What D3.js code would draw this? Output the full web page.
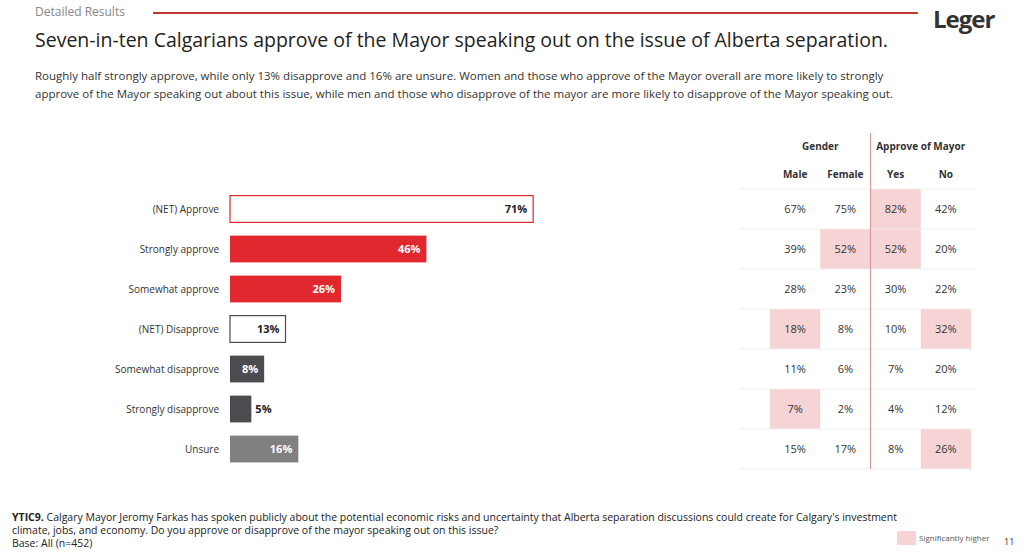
<!DOCTYPE html>
<html><head><meta charset="utf-8">
<script src="https://cdn.jsdelivr.net/npm/d3@7"></script>
<style>body{margin:0;background:#fff}svg{font-family:"Open Sans",Roboto,sans-serif}</style>
</head><body><svg id="c" width="1024" height="552"></svg>
<script>
const categories = ["(NET) Approve","Strongly approve","Somewhat approve","(NET) Disapprove","Somewhat disapprove","Strongly disapprove","Unsure"];
const totals = [71,46,26,13,8,5,16];
const kinds = ["netA","red","red","netD","dark","dark","gray"];
const columns = ["Male","Female","Yes","No"];
const male = [67,39,28,18,11,7,15];
const female = [75,52,23,8,6,2,17];
const yes = [82,52,30,10,7,4,8];
const no = [42,20,22,32,20,12,26];
const highlight = [[0,2],[1,1],[1,2],[3,0],[3,3],[5,0],[6,3]];

const svg = d3.select("#c");
const x = d3.scaleLinear().domain([0,100]).range([230,657]);
const y = d3.scaleBand().domain(categories).range([189,469]).paddingInner(0.33).paddingOuter(0.165);
const cx = d3.scaleBand().domain(columns).range([770,971]);

// header
svg.append("text").attr("x",35).attr("y",16).attr("font-size",12).attr("fill","#888").text("Detailed Results");
svg.append("line").attr("x1",153).attr("x2",918).attr("y1",13).attr("y2",13).attr("stroke","#c0392b").attr("stroke-width",2);
svg.append("text").attr("x",933).attr("y",28).attr("font-size",24).attr("font-weight",700).attr("fill","#333").attr("letter-spacing",-1).text("Leger");
svg.append("text").attr("x",35).attr("y",47).attr("font-size",19.5).attr("fill","#222").text("Seven-in-ten Calgarians approve of the Mayor speaking out on the issue of Alberta separation.");
const sub = ["Roughly half strongly approve, while only 13% disapprove and 16% are unsure. Women and those who approve of the Mayor overall are more likely to strongly",
 "approve of the Mayor speaking out about this issue, while men and those who disapprove of the mayor are more likely to disapprove of the Mayor speaking out."];
sub.forEach((s,i)=>svg.append("text").attr("x",35).attr("y",80+i*18).attr("font-size",11.5).attr("fill","#333").text(s));

// bars
const fill = {netA:"#fff",netD:"#fff",red:"#e0282e",dark:"#4b4b50",gray:"#808080"};
const stroke = {netA:"#e0282e",netD:"#4b4b50",red:"none",dark:"none",gray:"none"};
const g = svg.append("g");
categories.forEach((c,i)=>{
  const k = kinds[i];
  g.append("text").attr("x",219).attr("y",y(c)+y.bandwidth()/2+4).attr("text-anchor","end").attr("font-size",10).attr("fill","#333").text(c);
  g.append("rect").attr("x",x(0)).attr("y",y(c)).attr("width",x(totals[i])-x(0)).attr("height",y.bandwidth())
    .attr("fill",fill[k]).attr("stroke",stroke[k]).attr("stroke-width",1.2);
  const w = x(totals[i])-x(0);
  const outside = w < 25;
  g.append("text").attr("x",outside ? x(totals[i])+4 : x(totals[i])-6).attr("y",y(c)+y.bandwidth()/2+4)
    .attr("text-anchor",outside?"start":"end").attr("font-size",11).attr("font-weight",700)
    .attr("fill",(k==="netA"||k==="netD"||outside)?"#222":"#fff").text(totals[i]+"%");
});

// table
const rowH = 40, top0 = 189;
const vals = [male,female,yes,no];
highlight.forEach(([r,ci])=>svg.append("rect").attr("x",cx(columns[ci])).attr("y",top0+r*rowH).attr("width",cx.bandwidth()).attr("height",rowH).attr("fill","#f6d3d5"));
for(let r=0;r<=7;r++) svg.append("line").attr("x1",740).attr("x2",975).attr("y1",top0+r*rowH).attr("y2",top0+r*rowH).attr("stroke","#f0f0f0");
svg.append("text").attr("x",(cx("Male")+cx("Female")+cx.bandwidth())/2).attr("y",150).attr("text-anchor","middle").attr("font-size",10).attr("font-weight",700).attr("fill","#333").text("Gender");
svg.append("text").attr("x",(cx("Yes")+cx("No")+cx.bandwidth())/2).attr("y",150).attr("text-anchor","middle").attr("font-size",10).attr("font-weight",700).attr("fill","#333").text("Approve of Mayor");
columns.forEach((col,ci)=>{
  const mx = cx(col)+cx.bandwidth()/2;
  svg.append("text").attr("x",mx).attr("y",178).attr("text-anchor","middle").attr("font-size",10).attr("font-weight",700).attr("fill","#333").text(col);
  vals[ci].forEach((v,r)=>svg.append("text").attr("x",mx).attr("y",top0+r*rowH+24).attr("text-anchor","middle").attr("font-size",11).attr("fill","#333").text(v+"%"));
});
svg.append("line").attr("x1",cx("Yes")).attr("x2",cx("Yes")).attr("y1",133).attr("y2",469).attr("stroke","#d99a9e").attr("stroke-width",1.2);

// footer
const f = svg.append("text").attr("x",12).attr("y",521).attr("font-size",10.5).attr("fill","#222");
f.append("tspan").attr("font-weight",700).text("YTIC9.");
f.append("tspan").text(" Calgary Mayor Jeromy Farkas has spoken publicly about the potential economic risks and uncertainty that Alberta separation discussions could create for Calgary's investment");
svg.append("text").attr("x",12).attr("y",534).attr("font-size",10.5).attr("fill","#222").text("climate, jobs, and economy. Do you approve or disapprove of the mayor speaking out on this issue?");
svg.append("text").attr("x",12).attr("y",547).attr("font-size",10.5).attr("fill","#222").text("Base: All (n=452)");
svg.append("rect").attr("x",897).attr("y",531).attr("width",19).attr("height",14).attr("fill","#f6d3d5");
svg.append("text").attr("x",919).attr("y",541).attr("font-size",8).attr("fill","#555").text("Significantly higher");
svg.append("text").attr("x",1004).attr("y",545).attr("font-size",9).attr("fill","#333").text("11");
</script></body></html>
